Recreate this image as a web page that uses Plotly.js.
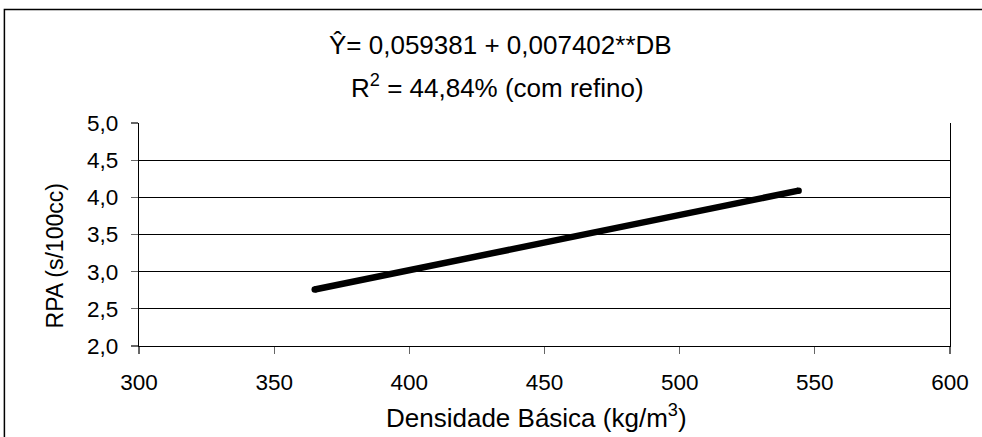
<!DOCTYPE html>
<html>
<head>
<meta charset="utf-8">
<script src="https://cdn.plot.ly/plotly-3.0.1.min.js"></script>
<style>
  html, body { margin: 0; padding: 0; background: #fff; }
  #chart { width: 982px; height: 437px; }
</style>
</head>
<body>
<div id="chart"></div>
<script>
// Fitted regression line: RPA against basic density
const densidade = [365, 544];
const rpa = [2.76, 4.09];

const xTicks = [300, 350, 400, 450, 500, 550, 600];
const yTicks = [2.0, 2.5, 3.0, 3.5, 4.0, 4.5, 5.0];

const equacao = 'Ŷ= 0,059381 + 0,007402**DB';
const r2Texto = 'R<sup>2</sup> = 44,84% (com refino)';
const xTitulo = 'Densidade Básica (kg/m<sup>3</sup>)';
const yTitulo = 'RPA (s/100cc)';

const fonte = '"Liberation Sans", Arial, sans-serif';

// plot box in pixels
const W = 982, H = 437;
const L = 138.7, R = 950.3, T = 123.3, B = 345.7;
const px = v => (v - L) / (R - L);       // pixel x -> paper x
const py = v => (B - v) / (B - T);       // pixel y -> paper y

const LINE_W = 6.5;

const trace = {
  x: densidade,
  y: rpa,
  type: 'scatter',
  mode: 'lines+markers',                 // end markers give the line rounded caps
  line: { color: '#000', width: LINE_W },
  marker: { color: '#000', size: LINE_W, symbol: 'circle', line: { width: 0 } },
  hoverinfo: 'skip'
};

const layout = {
  width: W,
  height: H,
  margin: { l: L, r: W - R, t: T, b: H - B },
  paper_bgcolor: '#fff',
  plot_bgcolor: '#fff',
  showlegend: false,
  separators: ', ',
  font: { family: fonte, size: 22, color: '#000' },
  xaxis: {
    range: [300, 600],
    tickvals: xTicks,
    ticktext: xTicks.map(String),
    ticks: 'outside',
    ticklen: 7,
    tickwidth: 1.3,
    tickcolor: '#666',
    ticklabelstandoff: 9,
    showline: true,
    linecolor: '#000',
    linewidth: 1.3,
    showgrid: false,
    zeroline: false,
    tickfont: { family: fonte, size: 22.5, color: '#000' }
  },
  yaxis: {
    range: [2.0, 5.0],
    tickvals: yTicks,
    tickformat: '.1f',
    ticks: 'outside',
    ticklen: 7,
    tickwidth: 1.3,
    tickcolor: '#666',
    ticklabelstandoff: 8,
    showline: true,
    mirror: true,
    linecolor: '#000',
    linewidth: 1.3,
    showgrid: true,
    gridcolor: '#000',
    gridwidth: 1.3,
    zeroline: false,
    tickfont: { family: fonte, size: 22.5, color: '#000' }
  },
  annotations: [
    {
      text: equacao, xref: 'paper', yref: 'paper',
      x: px(500), y: py(46), yanchor: 'middle', xanchor: 'center',
      showarrow: false, font: { family: fonte, size: 26, color: '#000' }
    },
    {
      text: r2Texto, xref: 'paper', yref: 'paper',
      x: px(497), y: py(87), yanchor: 'middle', xanchor: 'center',
      showarrow: false, font: { family: fonte, size: 26, color: '#000' }
    },
    {
      // x axis title
      text: xTitulo, xref: 'paper', yref: 'paper',
      x: px(536), y: py(416), yanchor: 'middle', xanchor: 'center',
      showarrow: false, font: { family: fonte, size: 26, color: '#000' }
    },
    {
      // y axis title
      text: yTitulo, xref: 'paper', yref: 'paper', textangle: -90,
      x: px(55), y: py(256), yanchor: 'middle', xanchor: 'center',
      showarrow: false, font: { family: fonte, size: 23, color: '#000' }
    }
  ],
  shapes: [
    {
      // outer frame around the whole chart, running off the right and bottom edges
      type: 'rect', xref: 'paper', yref: 'paper',
      x0: px(4), x1: px(1010),
      y0: py(480), y1: py(10),
      line: { color: '#000', width: 1.5 }, fillcolor: 'rgba(0,0,0,0)'
    }
  ]
};

Plotly.newPlot('chart', [trace], layout, { staticPlot: true, displayModeBar: false });
</script>
</body>
</html>
